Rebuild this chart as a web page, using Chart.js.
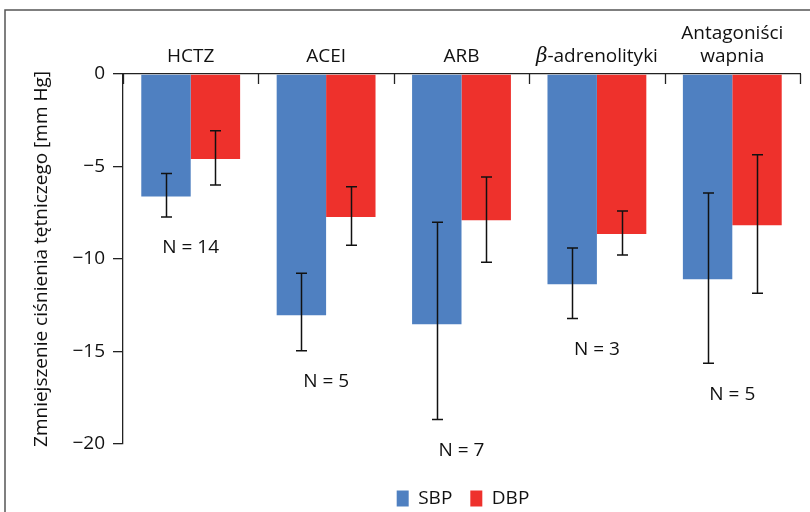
<!DOCTYPE html>
<html>
<head>
<meta charset="utf-8">
<script src="https://cdn.jsdelivr.net/npm/chart.js@4"></script>
<style>
  html, body { margin: 0; padding: 0; background: #fff; }
  #wrap { position: relative; width: 810px; height: 512px; }
</style>
</head>
<body>
<div id="wrap"><canvas id="bpChart" width="810" height="512"></canvas></div>
<script>
/* =========================
   DATA
========================= */
const categories = ["HCTZ", "ACEI", "ARB", "β-adrenolityki", ["Antagoniści", "wapnia"]];
const sbp = [-6.62, -13.04, -13.53, -11.37, -11.09];
const dbp = [-4.6, -7.73, -7.9, -8.65, -8.17];
// error bar ends (upper, lower)
const sbpErrHigh = [-5.38, -10.77, -8.02, -9.41, -6.43];
const sbpErrLow = [-7.73, -14.96, -18.68, -13.21, -15.63];
const dbpErrHigh = [-3.07, -6.1, -5.57, -7.4, -4.37];
const dbpErrLow = [-6.0, -9.25, -10.17, -9.79, -11.85];
const nCounts = [14, 5, 7, 3, 5];
const yTicks = [0, -5, -10, -15, -20];

const FONT = "'Open Sans', sans-serif";
const FS = 19;
const BLUE = "#4f80c1";
const RED = "#ee312c";

/* =========================
   PLUGINS
========================= */
// frame around the figure
const framePlugin = {
  id: "frame",
  beforeDraw(chart) {
    const ctx = chart.ctx;
    ctx.save();
    ctx.strokeStyle = "#555";
    ctx.lineWidth = 1.5;
    ctx.beginPath();
    ctx.moveTo(5, 512);
    ctx.lineTo(5, 10);
    ctx.lineTo(810, 10);
    ctx.stroke();
    ctx.restore();
  }
};

// legend sits under the plot area, not the whole canvas
const legendShift = {
  id: "legendShift",
  afterLayout(chart) {
    const lg = chart.legend;
    const dx = 48, dy = 27;
    lg.left += dx; lg.right += dx;
    lg.top += dy; lg.bottom += dy;
  }
};

// error bars, category ticks, top labels and N labels
const extrasPlugin = {
  id: "extras",
  afterDatasetsDraw(chart) {
    const ctx = chart.ctx;
    const x = chart.scales.x;
    const y = chart.scales.y;
    const area = chart.chartArea;
    const half = (x.getPixelForValue(1) - x.getPixelForValue(0)) / 2;

    ctx.save();
    // inward ticks on the top axis
    ctx.strokeStyle = "#222";
    ctx.lineWidth = 1.3;
    for (let i = 0; i <= categories.length; i++) {
      const px = Math.round(x.getPixelForValue(0) - half + i * 2 * half) + 0.5;
      ctx.beginPath();
      ctx.moveTo(px, area.top);
      ctx.lineTo(px, area.top + 10);
      ctx.stroke();
    }

    // error bars
    const sets = [[sbpErrHigh, sbpErrLow], [dbpErrHigh, dbpErrLow]];
    ctx.strokeStyle = "#111";
    ctx.lineWidth = 1.5;
    sets.forEach((pair, di) => {
      const meta = chart.getDatasetMeta(di);
      meta.data.forEach((bar, i) => {
        const cx = Math.round(bar.x) + 0.5;
        const yt = y.getPixelForValue(pair[0][i]);
        const yb = y.getPixelForValue(pair[1][i]);
        ctx.beginPath();
        ctx.moveTo(cx, yt);
        ctx.lineTo(cx, yb);
        ctx.moveTo(cx - 5.5, yt);
        ctx.lineTo(cx + 5.5, yt);
        ctx.moveTo(cx - 5.5, yb);
        ctx.lineTo(cx + 5.5, yb);
        ctx.stroke();
      });
    });

    // N labels below the lowest error bar end
    ctx.fillStyle = "#111";
    ctx.font = FS + "px " + FONT;
    ctx.textAlign = "center";
    ctx.textBaseline = "middle";
    nCounts.forEach((n, i) => {
      const low = Math.min(sbpErrLow[i], dbpErrLow[i]);
      const py = y.getPixelForValue(low) + 31;
      ctx.fillText("N = " + n, x.getPixelForValue(i), py);
    });

    // category labels above the plot
    ctx.textBaseline = "alphabetic";
    categories.forEach((lab, i) => {
      const cx = x.getPixelForValue(i);
      const lines = Array.isArray(lab) ? lab : [lab];
      lines.forEach((line, li) => {
        const py = 62 - (lines.length - 1 - li) * 23;
        if (line.startsWith("β")) {
          const rest = line.slice(1);
          ctx.font = FS + "px " + FONT;
          const wRest = ctx.measureText(rest).width;
          ctx.font = "italic 20px 'DejaVu Serif', serif";
          const wB = ctx.measureText("β").width;
          const start = cx - (wB + wRest) / 2;
          ctx.textAlign = "left";
          ctx.fillText("β", start, py);
          ctx.font = FS + "px " + FONT;
          ctx.fillText(rest, start + wB, py);
          ctx.textAlign = "center";
        } else {
          ctx.font = FS + "px " + FONT;
          ctx.fillText(line, cx, py);
        }
      });
    });
    ctx.restore();
  }
};

/* =========================
   CHART
========================= */
new Chart(document.getElementById("bpChart"), {
  type: "bar",
  data: {
    labels: categories,
    datasets: [
      { label: "SBP", data: sbp, backgroundColor: BLUE },
      { label: "DBP", data: dbp, backgroundColor: RED }
    ]
  },
  options: {
    responsive: false,
    animation: false,
    layout: { padding: { left: 30, right: 10, top: 0, bottom: 21 } },
    datasets: {
      bar: { categoryPercentage: 0.73, barPercentage: 1.0 }
    },
    scales: {
      x: {
        position: "top",
        grid: { display: false, drawTicks: false },
        border: { display: true, color: "#222", width: 1.3 },
        ticks: { display: false },
        afterFit(scale) { scale.height = 74; }
      },
      y: {
        min: -20,
        max: 0,
        afterBuildTicks(scale) {
          scale.ticks = yTicks.map(v => ({ value: v }));
        },
        grid: { drawOnChartArea: false, tickLength: 10, color: "#222", lineWidth: 1.3 },
        border: { display: true, color: "#222", width: 1.3 },
        ticks: {
          color: "#111",
          padding: 8,
          font: { family: FONT, size: FS },
          callback: v => String(v).replace("-", "\u2212")
        },
        title: {
          display: true,
          text: "Zmniejszenie ciśnienia tętniczego [mm Hg]",
          color: "#111",
          font: { family: FONT, size: FS },
          padding: { top: 0, bottom: 4 }
        },
        afterFit(scale) { scale.width = 93; }
      }
    },
    plugins: {
      legend: {
        position: "bottom",
        labels: {
          boxWidth: 12,
          boxHeight: 16,
          color: "#111",
          padding: 18,
          font: { family: FONT, size: FS }
        }
      },
      tooltip: { enabled: false }
    }
  },
  plugins: [framePlugin, legendShift, extrasPlugin]
});
</script>
</body>
</html>
